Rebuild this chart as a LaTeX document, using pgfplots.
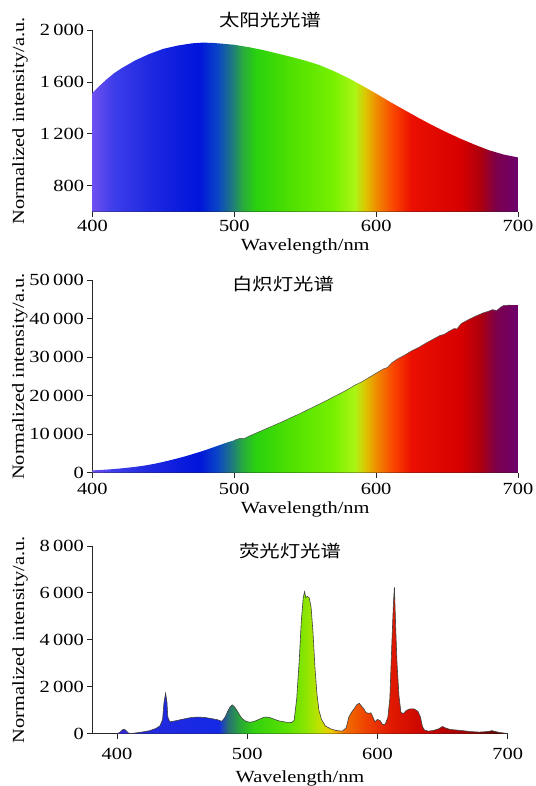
\documentclass[border=0pt]{standalone}
\usepackage{fontspec}
\setmainfont{Liberation Serif}[FakeStretch=1.2]
\newfontfamily\cjk{Noto Sans CJK SC}[FakeStretch=1.2]
\usepackage{pgfplots}
\pgfplotsset{compat=1.18}

\pgfdeclarehorizontalshading{specA}{100bp}{%
rgb(0bp)=(0.43,0.31,0.94);
rgb(25bp)=(0.43,0.31,0.94);
rgb(27.5bp)=(0.24,0.24,0.92);
rgb(31.67bp)=(0.12,0.16,0.88);
rgb(37.5bp)=(0.0,0.08,0.86);
rgb(39.67bp)=(0.04,0.27,0.78);
rgb(41.33bp)=(0.12,0.47,0.51);
rgb(42.67bp)=(0.16,0.67,0.24);
rgb(44.17bp)=(0.16,0.82,0.06);
rgb(48.33bp)=(0.31,0.88,0.0);
rgb(53.33bp)=(0.47,0.94,0.0);
rgb(55.83bp)=(0.67,0.96,0.08);
rgb(57bp)=(0.86,0.78,0.0);
rgb(58.33bp)=(0.94,0.55,0.0);
rgb(60.33bp)=(0.98,0.27,0.0);
rgb(62.5bp)=(0.92,0.06,0.0);
rgb(68.33bp)=(0.84,0.0,0.0);
rgb(70.67bp)=(0.67,0.0,0.06);
rgb(72.33bp)=(0.49,0.0,0.29);
rgb(75bp)=(0.43,0.0,0.43);
rgb(100bp)=(0.43,0.0,0.43)}

\pgfdeclarehorizontalshading{specC}{100bp}{%
rgb(0bp)=(0.24,0.16,0.86);
rgb(25bp)=(0.24,0.16,0.86);
rgb(26.67bp)=(0.16,0.16,0.86);
rgb(31.67bp)=(0.12,0.16,0.88);
rgb(38bp)=(0.08,0.16,0.90);
rgb(39.17bp)=(0.16,0.43,0.47);
rgb(40.83bp)=(0.16,0.67,0.2);
rgb(42.5bp)=(0.2,0.82,0.06);
rgb(46.67bp)=(0.35,0.88,0.0);
rgb(49.17bp)=(0.55,0.9,0.0);
rgb(51bp)=(0.78,0.88,0.0);
rgb(52.5bp)=(0.94,0.78,0.0);
rgb(54.17bp)=(0.94,0.43,0.0);
rgb(56.67bp)=(0.94,0.27,0.0);
rgb(60bp)=(0.88,0.1,0.0);
rgb(65bp)=(0.78,0.0,0.0);
rgb(70bp)=(0.63,0.0,0.0);
rgb(74.17bp)=(0.35,0.0,0.0);
rgb(75bp)=(0.31,0.0,0.0);
rgb(100bp)=(0.31,0.0,0.0)}

\pgfplotsset{myax/.style={
  scale only axis, anchor=south west,
  axis lines=left,
  axis line style={-, black!85, line width=0.8pt},
  tick align=outside, major tick length=5pt,
  tick style={black!85, line width=0.8pt},
  enlargelimits=false, scaled y ticks=false, scaled x ticks=false,
  /pgf/number format/assume math mode=true,
  /pgf/number format/1000 sep={\hspace{0.2em}},
  tick label style={font=\fontsize{17}{20}\selectfont},
  label style={font=\fontsize{17}{20}\selectfont},
  xlabel={Wavelength/nm}, ylabel={Normalized intensity/a.u.},
  xtick={400,500,600,700},
}}

\begin{document}
\begin{tikzpicture}
% ---------- sunlight ----------
\begin{axis}[myax, at={(92.5pt,-211.7pt)}, width=425.5pt, height=181.7pt,
  xmin=400, xmax=700, ymin=600, ymax=2000, ytick={800,1200,1600,2000},
  ylabel style={at={(axis description cs:-0.170,0.5)}, anchor=center}]
\addplot[draw=none, shading=specA] table {
400 1515
405 1570
410 1620
415 1665
420 1702
430 1765
440 1815
450 1855
460 1880
470 1897
478 1903
485 1900
490 1896
500 1886
510 1868
520 1846
530 1820
540 1793
550 1764
560 1730
570 1684
580 1632
590 1572
600 1510
610 1445
620 1383
630 1322
640 1264
650 1210
660 1160
670 1114
680 1072
690 1040
700 1018
} \closedcycle;
\end{axis}
% ---------- incandescent ----------
\pgfplotstableread{
400 600
405 700
410 800
415 950
420 1100
425 1300
430 1500
435 1750
440 2050
445 2400
450 2800
455 3250
460 3700
465 4200
470 4750
475 5300
480 5900
485 6550
490 7200
495 7850
500 8400
504 8900
507 8850
510 9400
515 10200
520 11000
525 11800
530 12600
535 13400
540 14300
545 15100
550 16000
555 16900
560 17800
565 18700
570 19700
575 20600
580 21600
585 22700
590 23600
595 24700
600 25800
605 26900
608 27300
611 28500
615 29500
620 30500
625 31600
630 32500
635 33600
640 34600
645 35600
648 35900
651 36600
655 37400
657 37300
660 38700
665 39700
670 40600
675 41400
680 42000
682 42300
685 42100
688 43000
690 43400
695 43500
700 43500
}\incan
\begin{axis}[myax, at={(92.3pt,-472.7pt)}, width=425.7pt, height=192.7pt,
  xmin=400, xmax=700, ymin=0, ymax=50000, ytick={0,10000,20000,30000,40000,50000},
  xticklabel style={yshift=-2pt},
  ylabel style={at={(axis description cs:-0.170,0.5)}, anchor=center}]
\addplot[draw=none, shading=specA] table {\incan} \closedcycle;
\addplot[black!70, line width=0.5pt, restrict x to domain=498:697] table {\incan};
\end{axis}
% ---------- fluorescent ----------
\pgfplotstableread{
400 0
402 40
404 150
405.5 185
407 120
409 10
411 0
415 30
420 70
425 120
430 220
433 330
435 600
436 1300
437.3 1720
438.3 1350
439 700
440.5 500
443 520
448 580
453 640
458 690
463 700
468 680
473 630
477 590
480.5 520
483 700
485 950
487 1150
488.5 1220
490 1150
492 990
494 800
496 640
499 520
502 480
505 510
509 600
513 700
517 690
521 600
525 530
530 480
534 470
536 560
538 1500
540 3200
541.5 4800
543 5800
544 6050
545 5800
546 5850
547.5 5800
549 5400
550.5 4300
552 2800
553.5 1700
555 1000
557 600
560 320
564 200
568 130
573 100
576 250
578 700
580 900
582 1050
584 1220
586 1290
588 1150
589.5 1060
591 900
593 860
595 880
596.5 700
598 500
600 600
602 550
604 380
606 400
608 700
609.5 1500
611 3800
612.2 5500
613 6250
614 4500
615 3000
616.5 1600
618 900
620 850
622 980
625 1050
628 1050
631 950
633 700
634.5 300
636 150
639 100
643 130
647 200
650 300
652 240
656 170
662 140
667 110
672 80
678 60
684 80
688 120
690 90
694 40
697 20
700 0
}\fluo
\begin{axis}[myax, at={(92.3pt,-733.5pt)}, width=415.4pt, height=187.5pt,
  xmin=381, xmax=700, ymin=0, ymax=8000, ytick={0,2000,4000,6000,8000},
  xticklabel style={yshift=-6pt}, xlabel style={yshift=-4pt},
  ylabel style={at={(axis description cs:-0.174,0.5)}, anchor=center}]
\addplot[draw=none, shading=specC] table {\fluo} \closedcycle;
\addplot[black!75, line width=0.6pt] table {\fluo};
\end{axis}
\node[font=\cjk\fontsize{17}{20}\selectfont] at (270pt,-20pt) {太阳光光谱};
\node[font=\cjk\fontsize{17}{20}\selectfont] at (283pt,-284pt) {白炽灯光谱};
\node[font=\cjk\fontsize{17}{20}\selectfont] at (290pt,-551pt) {荧光灯光谱};
\pgfresetboundingbox
\path[use as bounding box] (0pt,0pt) rectangle (535pt,-786pt);
\end{tikzpicture}
\end{document}
